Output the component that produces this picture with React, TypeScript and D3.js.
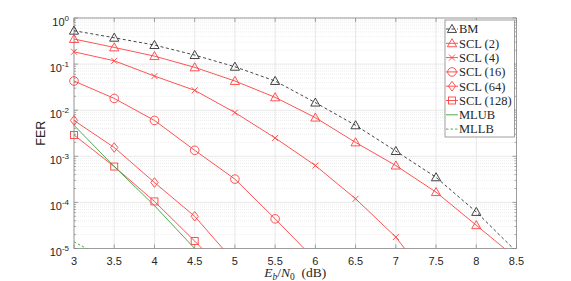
import React from "react";
import * as d3 from "d3";

const snr = [3, 3.5, 4, 4.5, 5, 5.5, 6, 6.5, 7, 7.5, 8, 8.5];
const bm = [0.53, 0.373, 0.259, 0.157, 0.0875, 0.043, 0.0146, 0.0047, 0.0013, 3.5e-4, 6.2e-5, 8.5e-6];
const scl2 = [0.35, 0.23, 0.149, 0.085, 0.043, 0.019, 0.0069, 0.002, 6.3e-4, 1.67e-4, 3.2e-5, 6.1e-6];
const scl4 = [0.185, 0.118, 0.055, 0.027, 0.0089, 0.0025, 6.3e-4, 1.2e-4, 1.77e-5, 1.3e-6];
const scl16 = [0.043, 0.018, 0.006, 0.00135, 3.2e-4, 4.4e-5, 5.6e-6];
const scl64 = [0.006, 0.00155, 2.7e-4, 5e-5, 5e-6];
const scl128 = [0.0029, 6e-4, 1.05e-4, 1.45e-5, 1.9e-6];
const mlub = [0.0047, 6e-4, 8.5e-5, 1e-5, 1.3e-6];
const mllb = [1.4e-5, 4.7e-6];
const xTicks = [3, 3.5, 4, 4.5, 5, 5.5, 6, 6.5, 7, 7.5, 8, 8.5];
const yExps = [0, -1, -2, -3, -4, -5];
const legendLabels = ["BM", "SCL (2)", "SCL (4)", "SCL (16)", "SCL (64)", "SCL (128)", "MLUB", "MLLB"];

const RED = "#ff4040";
const BLACK = "#303030";
const GREEN = "#3f9f3f";

type Marker = "tri" | "x" | "circle" | "diamond" | "square" | "none";

function MarkerShape({ type, x, y, color }: { type: Marker; x: number; y: number; color: string }) {
  const common = { fill: "none", stroke: color, strokeWidth: 0.9 };
  if (type === "tri") {
    const s = 4.6;
    return <path d={`M${x},${y - s}L${x + s},${y + s * 0.75}L${x - s},${y + s * 0.75}Z`} {...common} />;
  }
  if (type === "x") {
    const s = 3;
    return <path d={`M${x - s},${y - s}L${x + s},${y + s}M${x - s},${y + s}L${x + s},${y - s}`} {...common} />;
  }
  if (type === "circle") return <circle cx={x} cy={y} r={4.3} {...common} />;
  if (type === "diamond") {
    const s = 4.8;
    return <path d={`M${x},${y - s}L${x + s * 0.75},${y}L${x},${y + s}L${x - s * 0.75},${y}Z`} {...common} />;
  }
  if (type === "square") {
    const s = 3.5;
    return <rect x={x - s} y={y - s} width={2 * s} height={2 * s} {...common} />;
  }
  return null;
}

export default function App() {
  const W = 571, H = 281;
  const L = 74, R = 516.5, T = 18, B = 248.5;
  const x = d3.scaleLinear().domain([3, 8.5]).range([L, R]);
  const y = d3.scaleLog().domain([1e-5, 1]).range([B, T]);

  const series: { vals: number[]; color: string; marker: Marker; dash?: string; width: number }[] = [
    { vals: bm, color: BLACK, marker: "tri", dash: "3,2.5", width: 0.9 },
    { vals: scl2, color: RED, marker: "tri", width: 0.9 },
    { vals: scl4, color: RED, marker: "x", width: 0.9 },
    { vals: scl16, color: RED, marker: "circle", width: 0.9 },
    { vals: scl64, color: RED, marker: "diamond", width: 0.9 },
    { vals: scl128, color: RED, marker: "square", width: 0.9 },
    { vals: mlub, color: GREEN, marker: "none", width: 0.9 },
    { vals: mllb, color: GREEN, marker: "none", dash: "2.5,2", width: 0.9 },
  ];

  const line = d3
    .line<number>()
    .x((_, i) => x(snr[i]))
    .y((v) => y(v));

  const minor: number[] = [];
  for (let e = -5; e < 0; e++) for (let k = 2; k <= 9; k++) minor.push(k * Math.pow(10, e));

  const axisColor = "#8a8a8a";
  const textColor = "#262626";

  const legX = 445, legY = 20, legW = 69.5, legH = 117, legStep = 14.3;

  return (
    <svg width={W} height={H} style={{ position: "absolute", left: 0, top: 0 }}>
      <defs>
        <clipPath id="plotclip">
          <rect x={L} y={T} width={R - L} height={B - T} />
        </clipPath>
      </defs>
      <rect x={0} y={0} width={W} height={H} fill="#fff" />
      <rect x={L} y={T} width={R - L} height={B - T} fill="#fff" />
      {/* minor grid */}
      {minor.map((v, i) => (
        <line key={"mg" + i} x1={L} x2={R} y1={y(v)} y2={y(v)} stroke="#e6e6e6" strokeWidth={0.7} strokeDasharray="1,1" />
      ))}
      {/* major grid */}
      {xTicks.map((t, i) => (
        <line key={"gx" + i} x1={x(t)} x2={x(t)} y1={T} y2={B} stroke="#e2e2e2" strokeWidth={0.8} />
      ))}
      {yExps.map((e, i) => (
        <line key={"gy" + i} x1={L} x2={R} y1={y(Math.pow(10, e))} y2={y(Math.pow(10, e))} stroke="#e2e2e2" strokeWidth={0.8} />
      ))}
      {/* axes box */}
      <rect x={L} y={T} width={R - L} height={B - T} fill="none" stroke={axisColor} strokeWidth={0.8} />
      {/* ticks */}
      {xTicks.map((t, i) => (
        <g key={"tx" + i}>
          <line x1={x(t)} x2={x(t)} y1={B} y2={B - 4} stroke={axisColor} strokeWidth={0.8} />
          <line x1={x(t)} x2={x(t)} y1={T} y2={T + 4} stroke={axisColor} strokeWidth={0.8} />
        </g>
      ))}
      {yExps.map((e, i) => (
        <g key={"ty" + i}>
          <line x1={L} x2={L + 4} y1={y(Math.pow(10, e))} y2={y(Math.pow(10, e))} stroke={axisColor} strokeWidth={0.8} />
          <line x1={R} x2={R - 4} y1={y(Math.pow(10, e))} y2={y(Math.pow(10, e))} stroke={axisColor} strokeWidth={0.8} />
        </g>
      ))}
      {minor.map((v, i) => (
        <g key={"tm" + i}>
          <line x1={L} x2={L + 2} y1={y(v)} y2={y(v)} stroke={axisColor} strokeWidth={0.7} />
          <line x1={R} x2={R - 2} y1={y(v)} y2={y(v)} stroke={axisColor} strokeWidth={0.7} />
        </g>
      ))}
      {/* lines */}
      <g clipPath="url(#plotclip)">
        {series.map((s, i) => (
          <path
            key={"ln" + i}
            d={line(s.vals) || ""}
            fill="none"
            stroke={s.color}
            strokeWidth={s.width}
            strokeDasharray={s.dash}
          />
        ))}
      </g>
      {/* markers */}
      {series.map((s, i) =>
        s.vals.map((v, j) =>
          v >= 1e-5 && s.marker !== "none" ? (
            <MarkerShape key={"mk" + i + "-" + j} type={s.marker} x={x(snr[j])} y={y(v)} color={s.color} />
          ) : null
        )
      )}
      {/* x tick labels */}
      {xTicks.map((t, i) => (
        <text
          key={"xl" + i}
          x={x(t)}
          y={264.5}
          textAnchor="middle"
          fontFamily="Liberation Sans, Arial, sans-serif"
          fontSize={11}
          fill={textColor}
        >
          {String(t)}
        </text>
      ))}
      {/* y tick labels */}
      {yExps.map((e, i) => (
        <text
          key={"yl" + i}
          x={69}
          y={y(Math.pow(10, e)) + 7.5}
          textAnchor="end"
          fontFamily="Liberation Sans, Arial, sans-serif"
          fontSize={11}
          fill={textColor}
        >
          10
          <tspan fontSize={8} dy={-5}>
            {e === 0 ? "0" : String(e)}
          </tspan>
        </text>
      ))}
      {/* axis labels */}
      <text
        transform={`translate(45,${(T + B) / 2}) rotate(-90)`}
        textAnchor="middle"
        fontFamily="Liberation Sans, Arial, sans-serif"
        fontSize={12.5}
        fill={textColor}
      >
        FER
      </text>
      <text
        x={(L + R) / 2}
        y={277}
        textAnchor="middle"
        fontFamily="Liberation Serif, DejaVu Serif, serif"
        fontSize={13.5}
        fill={textColor}
      >
        <tspan fontStyle="italic">E</tspan>
        <tspan fontStyle="italic" fontSize={9.5} dy={2.5}>b</tspan>
        <tspan dy={-2.5}>/</tspan>
        <tspan fontStyle="italic">N</tspan>
        <tspan fontSize={9.5} dy={2.5}>0</tspan>
        <tspan dy={-2.5}>{"\u00a0\u00a0(dB)"}</tspan>
      </text>
      {/* legend */}
      <rect x={legX} y={legY} width={legW} height={legH} fill="#fff" stroke="#777" strokeWidth={0.7} />
      {series.map((s, i) => {
        const cy = legY + 9 + i * legStep;
        return (
          <g key={"lg" + i}>
            <line x1={legX + 1} x2={legX + 13} y1={cy} y2={cy} stroke={s.color} strokeWidth={s.width} strokeDasharray={s.dash} />
            {s.marker !== "none" && <MarkerShape type={s.marker} x={legX + 7} y={cy} color={s.color} />}
            <text
              x={legX + 14}
              y={cy + 4.3}
              fontFamily="Liberation Serif, DejaVu Serif, serif"
              fontSize={12.5}
              fill={textColor}
            >
              {legendLabels[i]}
            </text>
          </g>
        );
      })}
    </svg>
  );
}
